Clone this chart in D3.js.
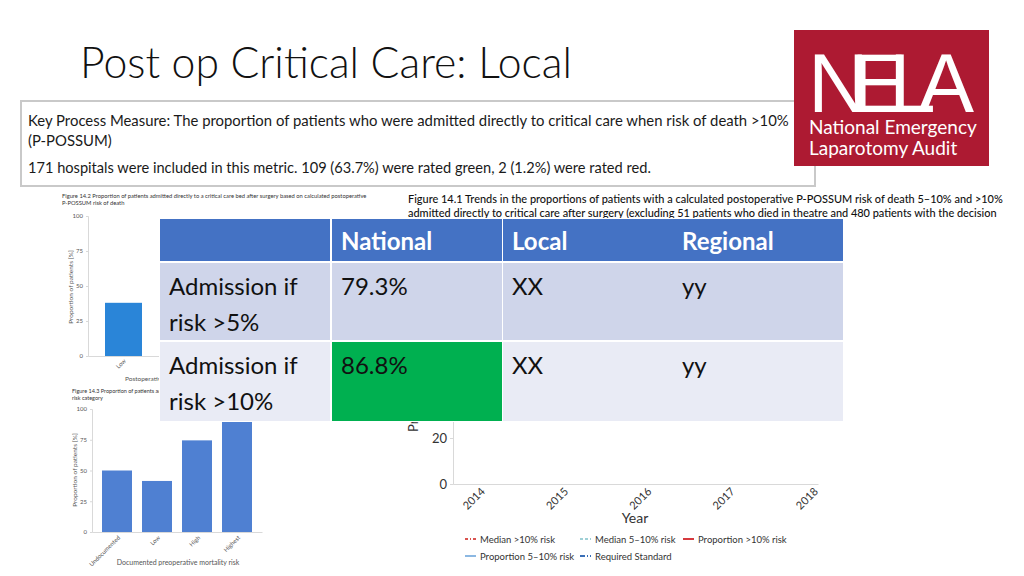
<!DOCTYPE html>
<html>
<head>
<meta charset="utf-8">
<script src="https://cdn.jsdelivr.net/npm/d3@7"></script>
<style>
  body { margin: 0; background: #fff; }
  svg { display: block; }
  .tiny text { fill: #555; }
  .axis path, .axis line { stroke: #d9d9d9; }
</style>
</head>
<body>
<svg id="slide" width="1024" height="576"></svg>
<script>
// ---- data ----
var slideTitle = "Post op Critical Care: Local";
var kpmLines = [
  "Key Process Measure: The proportion of patients who were admitted directly to critical care when risk of death >10%",
  "(P-POSSUM)",
  "171 hospitals were included in this metric. 109 (63.7%) were rated green, 2 (1.2%) were rated red."
];
var logoWord = "NELA";
var logoLines = ["National Emergency", "Laparotomy Audit"];

// Figure 14.2 (top left, mostly covered)
var fig2Caption = ["Figure 14.2  Proportion of patients admitted directly to a critical care bed after surgery based on calculated postoperative",
                   "P-POSSUM risk of death"];
var fig2Cats = ["Low", "High"];
var fig2Values = [38, 63];

// Figure 14.3 (bottom left)
var fig3Caption = ["Figure 14.3  Proportion of patients admitted directly to critical care after surgery based on documented preoperative mortality",
                   "risk category"];
var fig3Cats = ["Undocumented", "Low", "High", "Highest"];
var fig3Values = [50, 41.5, 74.5, 92];

// Figure 14.1 (right, trends)
var fig1Caption = ["Figure 14.1  Trends in the proportions of patients with a calculated postoperative P-POSSUM risk of death 5\u201310% and >10%",
                   "admitted directly to critical care after surgery (excluding 51 patients who died in theatre and 480 patients with the decision"];
var fig1Years = [2014, 2015, 2016, 2017, 2018];
var fig1YTicks = [0, 20, 40, 60, 80, 100];
var fig1Legend = ["Median >10% risk", "Median 5\u201310% risk", "Proportion >10% risk",
                  "Proportion 5\u201310% risk", "Required Standard"];

// table overlay
var tableHeader = ["", "National", "Local", "Regional"];
var tableRows = [
  [["Admission if", "risk >5%"], ["79.3%"], ["XX"], ["yy"]],
  [["Admission if", "risk >10%"], ["86.8%"], ["XX"], ["yy"]]
];
var tableRag = [[null, null, null, null], [null, "green", null, null]];

// ---- helpers ----
var svg = d3.select("#slide");
svg.append("rect").attr("width", 1024).attr("height", 576).attr("fill", "#fff");

function fitWidth(sel, w) {
  sel.each(function() {
    var t = d3.select(this);
    var cur = this.getComputedTextLength();
    var fs = parseFloat(t.style("font-size"));
    if (cur > 0) t.style("font-size", (fs * w / cur) + "px");
  });
}

var bodyFont = "Lato, 'Open Sans', sans-serif";

// ---- title ----
svg.append("text")
    .attr("x", 80).attr("y", 78)
    .style("font-family", bodyFont)
    .style("font-weight", 300)
    .style("font-size", "42px")
    .style("fill", "#111")
    .text(slideTitle)
    .call(fitWidth, 492);

// ---- key process measure box ----
svg.append("rect")
    .attr("x", 21).attr("y", 101).attr("width", 794).attr("height", 85)
    .attr("fill", "#fff").attr("stroke", "#c9c9c9").attr("stroke-width", 2);

var kpmY = [126, 146, 173];
var kpmW = [762, null, 623];
svg.selectAll(".kpm").data(kpmLines).enter().append("text")
    .attr("class", "kpm")
    .attr("x", 28).attr("y", function(d, i) { return kpmY[i]; })
    .style("font-family", bodyFont)
    .style("font-size", "14px")
    .style("fill", "#1a1a1a")
    .text(function(d) { return d; })
    .each(function(d, i) { if (kpmW[i]) fitWidth(d3.select(this), kpmW[i]); });
// keep "(P-POSSUM)" at the same size as line 1
svg.selectAll(".kpm").filter(function(d, i) { return i == 1; })
    .style("font-size", svg.select(".kpm").style("font-size"));

// ---- logo ----
var logo = svg.append("g").attr("transform", "translate(794,30)");
logo.append("rect").attr("width", 195).attr("height", 136).attr("fill", "#ad1a32");
logo.append("text")
    .attr("x", 14).attr("y", 82)
    .attr("textLength", 166)
    .attr("lengthAdjust", "spacing")
    .style("font-family", "'Liberation Sans Narrow', 'Liberation Sans', sans-serif")
    .style("font-size", "84px")
    .style("fill", "#fff")
    .text(logoWord);
logo.selectAll(".logoline").data(logoLines).enter().append("text")
    .attr("class", "logoline")
    .attr("x", 15).attr("y", function(d, i) { return 104 + i * 21; })
    .style("font-family", bodyFont)
    .style("font-size", "17px")
    .style("fill", "#fff")
    .text(function(d) { return d; });
logo.select(".logoline").call(fitWidth, 168);
logo.selectAll(".logoline").style("font-size", logo.select(".logoline").style("font-size"));

// ---- Figure 14.2 (top left) ----
var f2 = svg.append("g").attr("class", "tiny");
f2.selectAll(".cap").data(fig2Caption).enter().append("text")
    .attr("x", 62).attr("y", function(d, i) { return 198 + i * 7; })
    .style("font-family", bodyFont).style("font-size", "6px").style("fill", "#333")
    .text(function(d) { return d; });
f2.select("text").call(fitWidth, 305);
f2.selectAll("text").style("font-size", f2.select("text").style("font-size"));

var x2 = d3.scaleBand().domain(fig2Cats).range([88, 213]).paddingInner(0.315).paddingOuter(0.315);
var y2 = d3.scaleLinear().domain([0, 100]).range([356, 216]);

f2.append("g").attr("class", "axis")
    .attr("transform", "translate(88,0)")
    .call(d3.axisLeft(y2).tickValues([0, 25, 50, 75, 100]).tickSize(2).tickPadding(3))
    .selectAll("text").style("font-size", "6px").style("font-family", bodyFont);
f2.selectAll(".bar2").data(fig2Values).enter().append("rect")
    .attr("x", function(d, i) { return x2(fig2Cats[i]); })
    .attr("width", x2.bandwidth())
    .attr("y", function(d) { return y2(d); })
    .attr("height", function(d) { return y2(0) - y2(d); })
    .attr("fill", "#2a85d8");
var xa2 = f2.append("g").attr("class", "axis")
    .attr("transform", "translate(0,356)")
    .call(d3.axisBottom(x2).tickSize(0).tickPadding(4));
xa2.selectAll("text")
    .style("font-size", "6px").style("font-family", bodyFont)
    .attr("text-anchor", "end")
    .attr("transform", "rotate(-45)")
    .attr("dx", "-0.3em").attr("dy", "0.3em");
f2.append("text")
    .attr("transform", "translate(73,287) rotate(-90)")
    .attr("text-anchor", "middle")
    .style("font-family", bodyFont).style("font-size", "6.5px")
    .text("Proportion of patients [%]");
f2.append("text")
    .attr("x", 125).attr("y", 381)
    .style("font-family", bodyFont).style("font-size", "6.5px")
    .text("Postoperative P-POSSUM mortality risk");

// ---- Figure 14.3 (bottom left) ----
var f3 = svg.append("g").attr("class", "tiny");
f3.selectAll(".cap").data(fig3Caption).enter().append("text")
    .attr("x", 72).attr("y", function(d, i) { return 393 + i * 7; })
    .style("font-family", bodyFont).style("font-size", "5.5px").style("fill", "#333")
    .text(function(d) { return d; });

var x3 = d3.scaleBand().domain(fig3Cats).range([92, 262]).paddingInner(0.25).paddingOuter(0.25);
var y3 = d3.scaleLinear().domain([0, 100]).range([532, 409]);

f3.append("g").attr("class", "axis")
    .attr("transform", "translate(92,0)")
    .call(d3.axisLeft(y3).tickValues([0, 25, 50, 75, 100]).tickSize(2).tickPadding(3))
    .selectAll("text").style("font-size", "6px").style("font-family", bodyFont);
f3.selectAll(".bar3").data(fig3Values).enter().append("rect")
    .attr("x", function(d, i) { return x3(fig3Cats[i]); })
    .attr("width", x3.bandwidth())
    .attr("y", function(d) { return y3(d); })
    .attr("height", function(d) { return y3(0) - y3(d); })
    .attr("fill", "#4f80d2");
var xa3 = f3.append("g").attr("class", "axis")
    .attr("transform", "translate(0,532)")
    .call(d3.axisBottom(x3).tickSize(0).tickPadding(5));
xa3.selectAll("text")
    .style("font-size", "6px").style("font-family", bodyFont)
    .attr("text-anchor", "end")
    .attr("transform", "rotate(-45)")
    .attr("dx", "-0.3em").attr("dy", "0.3em");
f3.append("text")
    .attr("transform", "translate(77,470) rotate(-90)")
    .attr("text-anchor", "middle")
    .style("font-family", bodyFont).style("font-size", "6.5px")
    .text("Proportion of patients [%]");
f3.append("text")
    .attr("x", 178).attr("y", 565)
    .attr("text-anchor", "middle")
    .style("font-family", bodyFont).style("font-size", "7px")
    .text("Documented preoperative mortality risk");

// ---- Figure 14.1 (right) ----
var f1 = svg.append("g");
f1.selectAll(".cap1").data(fig1Caption).enter().append("text")
    .attr("class", "cap1")
    .attr("x", 408).attr("y", function(d, i) { return 203 + i * 14; })
    .style("font-family", bodyFont).style("font-size", "11px")
    .style("font-weight", 500).style("fill", "#111")
    .text(function(d) { return d; });
f1.select(".cap1").call(fitWidth, 595);
f1.selectAll(".cap1").style("font-size", f1.select(".cap1").style("font-size"));

var x1 = d3.scaleLinear().domain([2013.676, 2018.06]).range([453, 818]);
var y1 = d3.scaleLinear().domain([0, 100]).range([484, 254]);

var ya1 = f1.append("g").attr("class", "axis")
    .attr("transform", "translate(453,0)")
    .call(d3.axisLeft(y1).tickValues(fig1YTicks).tickSize(3).tickPadding(3));
ya1.selectAll("text").style("font-size", "13px").style("font-family", bodyFont).style("fill", "#333");

var xa1 = f1.append("g").attr("class", "axis")
    .attr("transform", "translate(0,484)")
    .call(d3.axisBottom(x1).tickValues(fig1Years).tickFormat(d3.format("d")).tickSize(0).tickPadding(4));
xa1.selectAll("text")
    .style("font-size", "11px").style("font-family", bodyFont).style("fill", "#333")
    .attr("text-anchor", "end")
    .attr("transform", "rotate(-45)")
    .attr("dx", "-0.2em").attr("dy", "0.5em");

f1.append("text")
    .attr("transform", "translate(418,432) rotate(-90)")
    .style("font-family", bodyFont).style("font-size", "13px").style("fill", "#333")
    .text("Proportion of patients [%]");
f1.append("text")
    .attr("x", 635).attr("y", 523)
    .attr("text-anchor", "middle")
    .style("font-family", bodyFont).style("font-size", "14px").style("fill", "#333")
    .text("Year");

// legend
var legColor = d3.scaleOrdinal().domain(fig1Legend)
    .range(["#d9534f", "#9fd0d6", "#d63a3f", "#8cb8e2", "#3a6fb7"]);
var legDash = d3.scaleOrdinal().domain(fig1Legend)
    .range(["3,2,1,2", "3,2", null, null, "5,2,1,2"]);
var legPos = [[465, 539], [580, 539], [683, 539], [465, 556], [580, 556]];

var leg = f1.selectAll(".leg").data(fig1Legend).enter().append("g")
    .attr("class", "leg")
    .attr("transform", function(d, i) { return "translate(" + legPos[i][0] + "," + legPos[i][1] + ")"; });
leg.append("line")
    .attr("x1", 0).attr("x2", 11).attr("y1", 0).attr("y2", 0)
    .attr("stroke", function(d) { return legColor(d); })
    .attr("stroke-width", 2)
    .attr("stroke-dasharray", function(d) { return legDash(d); });
leg.append("text")
    .attr("x", 15).attr("y", 3.5)
    .style("font-family", bodyFont).style("font-size", "9.5px").style("fill", "#333")
    .text(function(d) { return d; });

// ---- table overlay ----
var colX = [160, 332, 503, 673];
var colW = 170;
var rowY = [219, 263, 342];
var rowH = [42, 77, 79];
var rowFill = ["#4472c4", "#cfd5ea", "#e9ebf5"];
var ragFill = { green: "#00b050" };

var tbl = svg.append("g");
tbl.append("rect").attr("x", 159).attr("y", 218).attr("width", 686).attr("height", 204).attr("fill", "#fff");
var allRows = [tableHeader.map(function(d) { return [d]; })].concat(tableRows);
allRows.forEach(function(row, r) {
  row.forEach(function(cell, c) {
    var rag = r > 0 ? tableRag[r - 1][c] : null;
    tbl.append("rect")
        .attr("x", colX[c]).attr("y", rowY[r])
        .attr("width", colW).attr("height", rowH[r])
        .attr("fill", rag ? ragFill[rag] : rowFill[r]);
    tbl.selectAll(null).data(cell).enter().append("text")
        .attr("x", colX[c] + 9)
        .attr("y", function(d, i) { return (r == 0 ? 250 : rowY[r] + 32) + i * 36; })
        .style("font-family", bodyFont)
        .style("font-size", "24px")
        .style("font-weight", r == 0 ? 700 : 400)
        .style("fill", r == 0 ? "#fff" : "#111")
        .text(function(d) { return d; });
  });
});
</script>
</body>
</html>
